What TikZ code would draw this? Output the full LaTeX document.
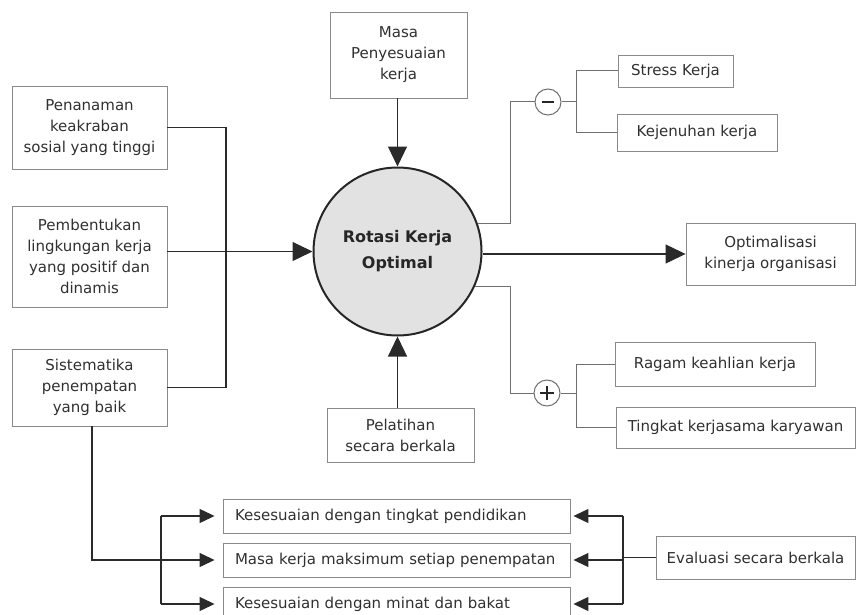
\documentclass[tikz,border=0pt]{standalone}
\usepackage{fontspec}
\setmainfont{DejaVu Sans}
\usetikzlibrary{arrows.meta,calc}
\definecolor{txt}{HTML}{303030}
\definecolor{bord}{HTML}{8A8A8A}
\definecolor{lnk}{HTML}{2A2A2A}
\definecolor{glnk}{HTML}{707070}
\definecolor{cfill}{HTML}{E2E2E2}
\begin{document}
\begin{tikzpicture}[x=1pt,y=-1pt,
  font=\fontsize{15}{21}\selectfont, text=txt,
  bx/.style={draw=bord, line width=0.9pt, rectangle, inner sep=0pt, align=center},
  lbx/.style={bx, minimum width=347pt, minimum height=34pt, text width=323pt, align=left},
  lk/.style={draw=lnk, line width=1.2pt},
  gl/.style={draw=glnk, line width=1pt},
  arrbig/.style={lk, -{Triangle[length=20pt,width=19pt]}},
  arrsm/.style={lk, -{Triangle[length=15pt,width=14pt]}},
  sgn/.style={circle, draw=glnk, line width=1pt, minimum size=26pt, inner sep=0pt, fill=white}
]
\useasboundingbox (0,0) rectangle (856,615);
% central circle
\node[circle, draw=black!85, line width=2pt, fill=cfill, minimum size=168pt, inner sep=0pt,
      font=\fontsize{16}{26}\selectfont\bfseries, align=center, text=black!85] (c) at (397.5,251.5) {Rotasi Kerja\\Optimal};
% left boxes
\node[bx, minimum width=155pt, minimum height=83pt] (pen) at (89.5,127.5) {Penanaman\\keakraban\\sosial yang tinggi};
\node[bx, minimum width=155pt, minimum height=101pt] (pem) at (89.5,256.5) {Pembentukan\\lingkungan kerja\\yang positif dan\\dinamis};
\node[bx, minimum width=155pt, minimum height=77pt] (sis) at (89.5,387.5) {Sistematika\\penempatan\\yang baik};
% top / bottom
\node[bx, minimum width=137pt, minimum height=86pt] (masa) at (398.5,55) {Masa\\Penyesuaian\\kerja};
\node[bx, minimum width=147pt, minimum height=54pt] (pel) at (400.5,435) {Pelatihan\\secara berkala};
% right boxes
\node[bx, minimum width=115pt, minimum height=32pt] (stress) at (675.5,71) {Stress Kerja};
\node[bx, minimum width=160pt, minimum height=37pt] (kej) at (697,132.5) {Kejenuhan kerja};
\node[bx, minimum width=169pt, minimum height=62pt] (opt) at (770.5,254) {Optimalisasi\\kinerja organisasi};
\node[bx, minimum width=200pt, minimum height=44pt] (ragam) at (715,364) {Ragam keahlian kerja};
\node[bx, minimum width=239pt, minimum height=41pt] (tingkat) at (735.5,427.5) {Tingkat kerjasama karyawan};
% bottom boxes
\node[lbx] (k1) at (396.5,516) {\mbox{Kesesuaian dengan tingkat pendidikan}};
\node[lbx] (k2) at (396.5,560) {\mbox{Masa kerja maksimum setiap penempatan}};
\node[lbx] (k3) at (396.5,604) {\mbox{Kesesuaian dengan minat dan bakat}};
\node[bx, minimum width=199pt, minimum height=43pt] (eval) at (755.5,557.5) {Evaluasi secara berkala};
% sign circles
\node[sgn] (minus) at (548,102) {};
\draw[black!85, line width=2.2pt] ($(minus)+(-6,0)$) -- ($(minus)+(6,0)$);
\node[sgn] (plus) at (547,393) {};
\draw[black!85, line width=1.2pt] ($(plus)+(-7,0)$) -- ($(plus)+(7,0)$) ($(plus)+(0,-7)$) -- ($(plus)+(0,7)$);
% coordinates
\coordinate (lv) at (226,0);
\coordinate (ub) at (510,0);
\coordinate (mb) at (576,0);
\coordinate (lb) at (161,0);
\coordinate (rb) at (623,0);
% left connectors
\draw[lk] (pen.east) -- (pen.east -| lv) -- (sis.east -| lv) -- (sis.east);
\draw[arrbig] (pem.east |- c) -- (c.west);
\draw[arrbig] (masa.south -| c) -- (c.north);
\draw[arrbig] (pel.north -| c) -- (c.south);
% right connectors
\draw[gl] (c.19) -- (c.19 -| ub) -- (minus.west -| ub) -- (minus.west);
\draw[gl] (minus.east) -- (minus.east -| mb);
\draw[gl] (stress.west) -- (stress.west -| mb) -- (kej.west -| mb) -- (kej.west);
\draw[gl] (c.-24) -- (c.-24 -| ub) -- (plus.west -| ub) -- (plus.west);
\draw[gl] (plus.east) -- (plus.east -| mb);
\draw[gl] (ragam.west) -- (ragam.west -| mb) -- (tingkat.west -| mb) -- (tingkat.west);
\draw[arrbig] (c.east |- opt.west) -- (opt.west);
% bottom connectors
\coordinate (sb) at (92,426);
\draw[arrsm] (sb) -- (sb |- k2.west) -- ([xshift=-8pt]k2.west);
\draw[arrsm] (k1.west -| lb) -- ([xshift=-8pt]k1.west);
\draw[lk] (k1.west -| lb) -- (k3.west -| lb);
\draw[arrsm] (k3.west -| lb) -- ([xshift=-8pt]k3.west);
\draw[lk] (eval.west) -- (eval.west -| rb);
\draw[lk] (k1.east -| rb) -- (k3.east -| rb);
\draw[arrsm] (k1.east -| rb) -- ([xshift=3pt]k1.east);
\draw[arrsm] (k2.east -| rb) -- ([xshift=3pt]k2.east);
\draw[arrsm] (k3.east -| rb) -- ([xshift=3pt]k3.east);
\end{tikzpicture}
\end{document}
